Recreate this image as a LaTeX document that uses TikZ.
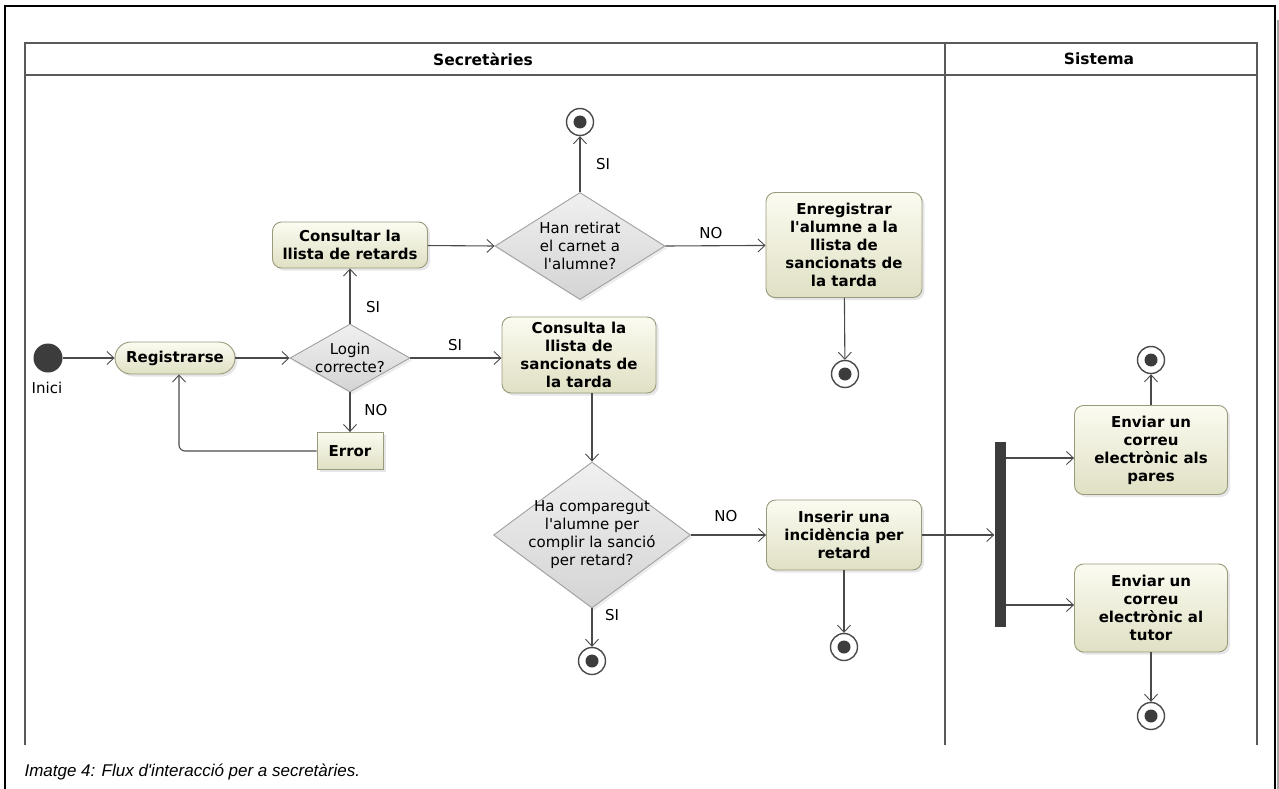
\documentclass[tikz,border=0pt]{standalone}
\usepackage{fontspec}
\setmainfont{DejaVu Sans}
\newfontfamily\diagfont{DejaVu Sans}
\newfontfamily\captionfont{Liberation Sans}
\usepackage{xcolor}
\usetikzlibrary{arrows.meta,calc,positioning,shadows,shapes.geometric}

\definecolor{lanegray}{HTML}{5A5A5A}
\definecolor{flowgray}{HTML}{4A4A4A}
\definecolor{acttop}{HTML}{FBFBF1}
\definecolor{actbot}{HTML}{E0E0C4}
\definecolor{actdraw}{HTML}{9A9A7C}
\definecolor{dectop}{HTML}{F0F0F0}
\definecolor{decbot}{HTML}{D4D4D4}
\definecolor{decdraw}{HTML}{A0A0A0}
\definecolor{nodedark}{HTML}{3C3C3C}

\tikzset{
  lane/.style={draw=lanegray, line width=2.2pt},
  flow/.style={draw=flowgray, line width=1.1pt, -{Straight Barb[length=7pt,width=13pt,line width=0.9pt]}},
  link/.style={draw=flowgray, line width=1.1pt},
  action/.style={draw=actdraw, line width=0.9pt, rounded corners=9pt, top color=acttop, bottom color=actbot,
    align=center, inner sep=2pt, font=\diagfont\bfseries\fontsize{15}{18}\selectfont,
    drop shadow={shadow xshift=2.5pt, shadow yshift=-2.5pt, opacity=0.2}},
  errbox/.style={action, rounded corners=0pt},
  decision/.style={diamond, draw=decdraw, line width=0.9pt, top color=dectop, bottom color=decbot, inner sep=0pt,
    drop shadow={shadow xshift=2pt, shadow yshift=-2.5pt, opacity=0.15}},
  dectext/.style={align=center, font=\diagfont\fontsize{15}{18}\selectfont},
  final/.style={circle, draw=flowgray, fill=white, line width=1.4pt, minimum size=27pt, inner sep=0pt,
    path picture={\fill[nodedark] (path picture bounding box.center) circle (6.5pt);}},
  initial/.style={circle, fill=nodedark, minimum size=29pt, inner sep=0pt},
  guard/.style={font=\diagfont\fontsize{15}{16}\selectfont},
  lanehead/.style={font=\diagfont\bfseries\fontsize{15.5}{16}\selectfont}
}

\begin{document}
\begin{tikzpicture}[x=1pt, y=-1pt]
  \useasboundingbox (0,0) rectangle (1279,789);
  % frame and swimlanes
  \draw[black!35, line width=3pt] (1278.5,20) -- (1278.5,789);
  \draw[line width=2pt] (5,789) -- (5,6.5) -- (1275,6.5) -- (1275,789);
  \draw[lane] (25,745) -- (25,43) -- (1257,43) -- (1257,745);
  \draw[lane] (25,75) -- (1257,75);
  \draw[lane] (945,43) -- (945,745);
  \node[lanehead] (secretaries) at (483,59) {Secretàries};
  \node[lanehead] (sistema) at (1099,59) {Sistema};

  % secretaries
  \node[initial] (inici) at (48,358) {};
  \node[guard] (inicilbl) at (47,388) {Inici};
  \node[action, rounded corners=16pt, minimum width=120pt, minimum height=32pt] (registrar) at (175,358) {Registrarse};
  \node[decision, minimum width=120pt, minimum height=68pt,
    label={[dectext]center:Login\\correcte?}] (login) at (350,358) {};
  \node[errbox, minimum width=66pt, minimum height=37pt] (error) at (350,451) {Error};
  \node[action, minimum width=155pt, minimum height=46pt] (llista) at (350,245) {Consultar la\\llista de retards};
  \node[decision, minimum width=170pt, minimum height=107pt,
    label={[dectext]center:Han retirat\\el carnet a\\l'alumne?}] (carnet) at (580,246) {};
  \node[final] (fi1) at (580,122) {};
  \node[action, minimum width=156pt, minimum height=105pt] (enregistrar) at (844,245) {Enregistrar\\l'alumne a la\\llista de\\sancionats de\\la tarda};
  \node[final] (fi2) at (845,374) {};
  \node[action, minimum width=154pt, minimum height=76pt] (sancionats) at (579,355) {Consulta la\\llista de\\sancionats de\\la tarda};
  \node[decision, minimum width=197pt, minimum height=146pt,
    label={[dectext]center:Ha comparegut\\l'alumne per\\complir la sanció\\per retard?}] (compareix) at (592,535) {};
  \node[final] (fi3) at (592,661) {};
  \node[action, minimum width=155pt, minimum height=70pt] (inserir) at (844,535) {Inserir una\\incidència per\\retard};
  \node[final] (fi4) at (844,647) {};

  % sistema
  \node[fill=nodedark, minimum width=11pt, minimum height=185pt, inner sep=0pt] (fork) at (1000,534) {};
  \node[action, minimum width=153pt, minimum height=89pt] (pares) at (1151,450) {Enviar un\\correu\\electrònic als\\pares};
  \node[final] (fi5) at (1151,360) {};
  \node[action, minimum width=153pt, minimum height=88pt] (tutor) at (1151,608) {Enviar un\\correu\\electrònic al\\tutor};
  \node[final] (fi6) at (1151,716) {};

  % guards
  \node[guard] (si1) at (373,307) {SI};
  \node[guard] (no1) at (376,410) {NO};
  \node[guard] (si2) at (455,345) {SI};
  \node[guard] (si3) at (603,164) {SI};
  \node[guard] (no2) at (711,233) {NO};
  \node[guard] (no3) at (726,516) {NO};
  \node[guard] (si4) at (612,615) {SI};

  % flows
  \draw[flow] (inici) -- (registrar);
  \draw[flow] (registrar) -- (login);
  \draw[flow] (login.north) -- (llista);
  \draw[flow] (login.south) -- (error);
  \draw[flow, rounded corners=6pt] (error.west) -| ([xshift=4pt]registrar.south);
  \draw[flow] (login.east) -- (login.east -| sancionats.west);
  \draw[flow] (llista) -- (carnet.west);
  \draw[flow] (carnet.north) -- (fi1);
  \draw[flow] (carnet.east) -- (enregistrar);
  \draw[flow] (enregistrar) -- (fi2);
  \draw[flow] (sancionats.south -| compareix.north) -- (compareix.north);
  \draw[flow] (compareix.east) -- (inserir);
  \draw[flow] (compareix.south) -- (fi3);
  \draw[flow] (inserir) -- (fi4);
  \draw[flow] (inserir.east) -- (inserir.east -| fork.west);
  \draw[flow] ([yshift=-8pt]pares.west -| fork.east) -- ([yshift=-8pt]pares.west);
  \draw[flow] ([yshift=3pt]tutor.west -| fork.east) -- ([yshift=3pt]tutor.west);
  \draw[flow] (pares) -- (fi5);
  \draw[flow] (tutor) -- (fi6);

  \node[anchor=west, font=\captionfont\itshape\fontsize{17}{18}\selectfont] (caption) at (21,772) {Imatge 4: Flux d'interacció per a secretàries.};
\end{tikzpicture}
\end{document}
